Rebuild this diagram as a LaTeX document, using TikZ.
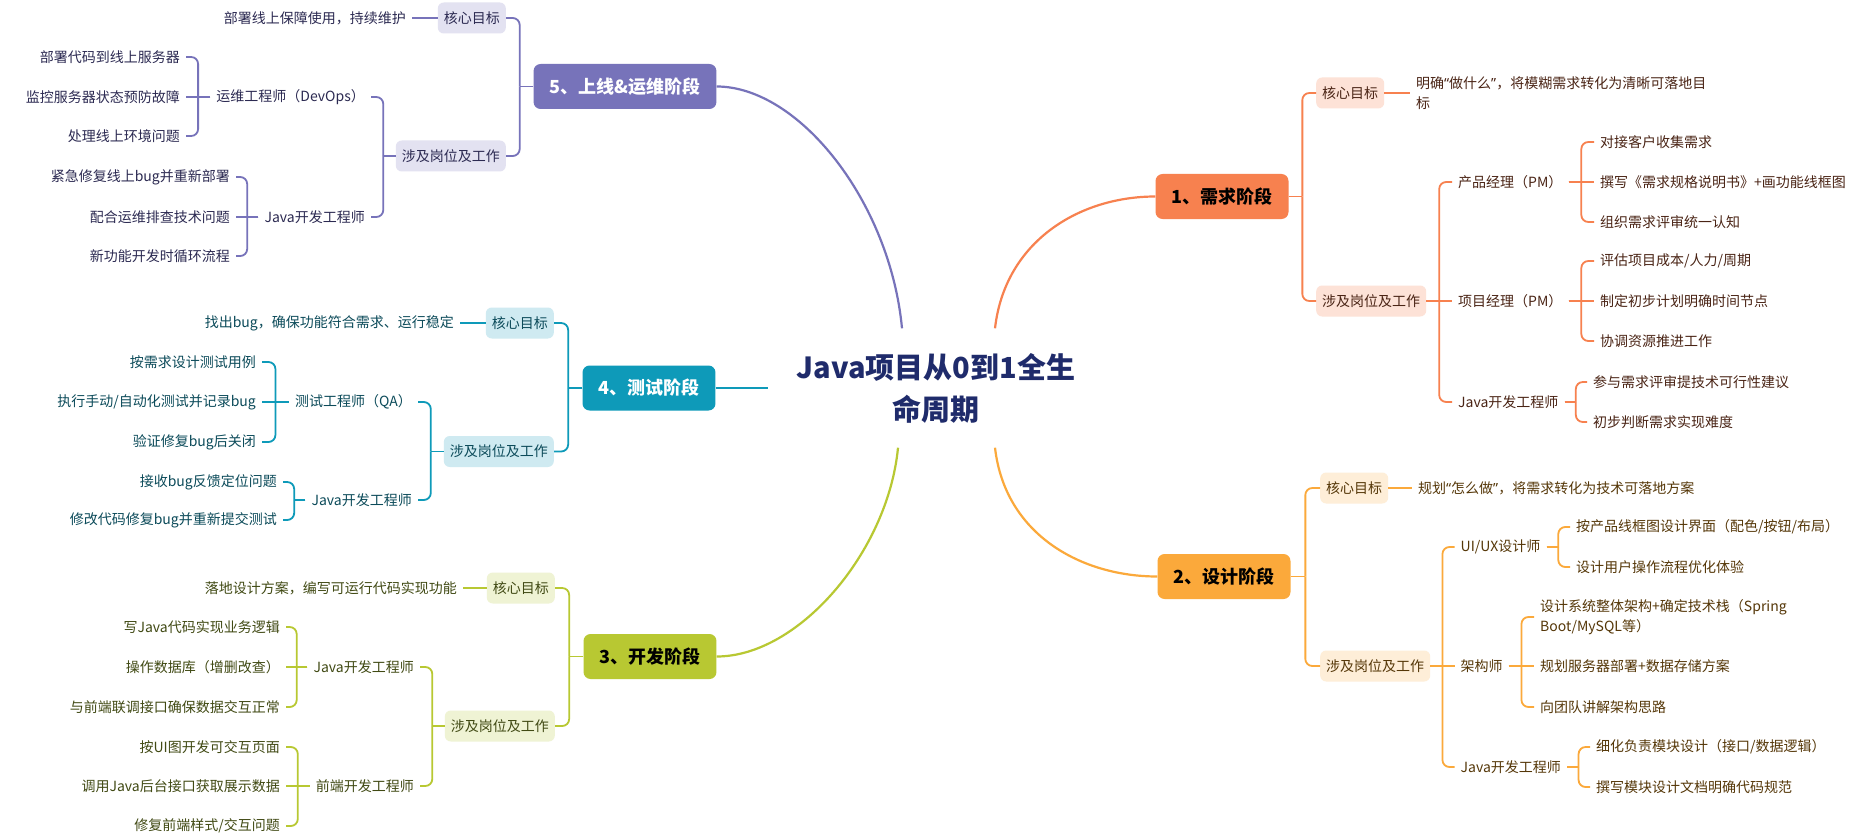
\documentclass[tikz,border=0pt]{standalone}
\usepackage{fontspec}
\setmainfont{Noto Sans CJK SC}
\newfontfamily\latq{Noto Sans}
\newcommand\qlft{{\latq “}}
\newcommand\qrgt{{\latq ”}}
\usetikzlibrary{calc}
\definecolor{ca}{HTML}{F7814F}\definecolor{cal}{HTML}{FDE2D7}\definecolor{cat}{HTML}{4A2415}
\definecolor{cb}{HTML}{FBA93B}\definecolor{cbl}{HTML}{FEEED8}\definecolor{cbt}{HTML}{553708}
\definecolor{cc}{HTML}{B8C832}\definecolor{ccl}{HTML}{EFF3D4}\definecolor{cct}{HTML}{414A14}
\definecolor{cd}{HTML}{0E9AB9}\definecolor{cdl}{HTML}{CFEAF1}\definecolor{cdt}{HTML}{0C4B5A}
\definecolor{ce}{HTML}{7773BA}\definecolor{cel}{HTML}{E3E2F1}\definecolor{cet}{HTML}{2C2A52}
\definecolor{navy}{HTML}{1F2B6B}
\newcommand\mmR[3]{\draw[#1] (#2.east) -- ($(#2.east)!0.5!(#2.east -| #3.west)$) coordinate (jn);
  \draw[#1,rounded corners=7pt] (jn) |- (#3.west);}
\newcommand\mmL[3]{\draw[#1] (#2.west) -- ($(#2.west)!0.5!(#2.west -| #3.east)$) coordinate (jn);
  \draw[#1,rounded corners=7pt] (jn) |- (#3.east);}
\newcommand\mmSR[3]{\draw[#1] (#2.east) -- (#3.west);}
\newcommand\mmSL[3]{\draw[#1] (#2.west) -- (#3.east);}
\tikzset{
  every node/.style={font=\fontsize{14}{20.5}\selectfont},
  mainbox/.style={rounded corners=7pt, minimum height=45pt, inner xsep=16pt, inner ysep=0pt,
    font=\fontsize{18}{20}\selectfont\bfseries},
  subbox/.style={rounded corners=6pt, minimum height=31pt, inner xsep=6pt, inner ysep=0pt},
  leaf/.style={inner xsep=6pt, inner ysep=1pt, align=left},
  box1/.style={mainbox, fill=ca, text=black}, sub1/.style={subbox, fill=cal, text=cat}, txt1/.style={leaf, text=cat},
  ln1/.style={draw=ca, line width=1.8pt}, crv1/.style={draw=ca, line width=2.2pt},
  box2/.style={mainbox, fill=cb, text=black}, sub2/.style={subbox, fill=cbl, text=cbt}, txt2/.style={leaf, text=cbt},
  ln2/.style={draw=cb, line width=1.8pt}, crv2/.style={draw=cb, line width=2.2pt},
  box3/.style={mainbox, fill=cc, text=black}, sub3/.style={subbox, fill=ccl, text=cct}, txt3/.style={leaf, text=cct},
  ln3/.style={draw=cc, line width=1.8pt}, crv3/.style={draw=cc, line width=2.2pt},
  box4/.style={mainbox, fill=cd, text=white}, sub4/.style={subbox, fill=cdl, text=cdt}, txt4/.style={leaf, text=cdt},
  ln4/.style={draw=cd, line width=1.8pt}, crv4/.style={draw=cd, line width=2.2pt},
  box5/.style={mainbox, fill=ce, text=white}, sub5/.style={subbox, fill=cel, text=cet}, txt5/.style={leaf, text=cet},
  ln5/.style={draw=ce, line width=1.8pt}, crv5/.style={draw=ce, line width=2.2pt},
}
\begin{document}
\begin{tikzpicture}[x=1pt,y=-1pt]
\fill[white] (0,0) rectangle (1862,837);
\useasboundingbox (0,0) rectangle (1862,837);

% title
\node[minimum width=336pt, minimum height=119pt, align=center, text=navy,
  font=\fontsize{29}{42}\selectfont\bfseries] (TT) at (936,388) {Java项目从0到1全生\\命周期};

% ---------- branch 1 ----------
\node[box1] (B1) at (1222,196.5) {1、需求阶段};
\node[sub1, anchor=west] (G1) at (1316,93) {核心目标};
\node[sub1, anchor=west] (W1) at (1316,301) {涉及岗位及工作};
\node[txt1, anchor=west] (T1) at (1410,93) {明确\qlft 做什么\qrgt ，将模糊需求转化为清晰可落地目\\标};
\node[txt1, anchor=west] (R11) at (1452,182) {产品经理（PM）};
\node[txt1, anchor=west] (R12) at (1452,301) {项目经理（PM）};
\node[txt1, anchor=west] (R13) at (1452,402) {Java开发工程师};
\node[txt1, anchor=west] (L111) at (1594,142) {对接客户收集需求};
\node[txt1, anchor=west] (L112) at (1594,182) {撰写《需求规格说明书》+画功能线框图};
\node[txt1, anchor=west] (L113) at (1594,222) {组织需求评审统一认知};
\node[txt1, anchor=west] (L121) at (1594,261) {评估项目成本/人力/周期};
\node[txt1, anchor=west] (L122) at (1594,301) {制定初步计划明确时间节点};
\node[txt1, anchor=west] (L123) at (1594,341) {协调资源推进工作};
\node[txt1, anchor=west] (L131) at (1587,382) {参与需求评审提技术可行性建议};
\node[txt1, anchor=west] (L132) at (1587,422) {初步判断需求实现难度};

\draw[crv1] ([xshift=59pt]TT.north) .. controls +(10,-87) and +(-76,0) .. (B1.west);
\mmR{ln1}{B1}{G1} \mmR{ln1}{B1}{W1}
\mmSR{ln1}{G1}{T1}
\mmR{ln1}{W1}{R11} \mmSR{ln1}{W1}{R12} \mmR{ln1}{W1}{R13}
\mmR{ln1}{R11}{L111} \mmSR{ln1}{R11}{L112} \mmR{ln1}{R11}{L113}
\mmR{ln1}{R12}{L121} \mmSR{ln1}{R12}{L122} \mmR{ln1}{R12}{L123}
\mmR{ln1}{R13}{L131} \mmR{ln1}{R13}{L132}

% ---------- branch 2 ----------
\node[box2] (B2) at (1224,576.5) {2、设计阶段};
\node[sub2, anchor=west] (G2) at (1320,488) {核心目标};
\node[sub2, anchor=west] (W2) at (1320,666) {涉及岗位及工作};
\node[txt2, anchor=west] (T2) at (1412,488) {规划\qlft 怎么做\qrgt ，将需求转化为技术可落地方案};
\node[txt2, anchor=west] (R21) at (1454.5,547) {UI/UX设计师};
\node[txt2, anchor=west] (R22) at (1454.5,666) {架构师};
\node[txt2, anchor=west] (R23) at (1454.5,767) {Java开发工程师};
\node[txt2, anchor=west] (L211) at (1570,527) {按产品线框图设计界面（配色/按钮/布局）};
\node[txt2, anchor=west] (L212) at (1570,567) {设计用户操作流程优化体验};
\node[txt2, anchor=west] (L221) at (1534,617) {设计系统整体架构+确定技术栈（Spring\\Boot/MySQL等）};
\node[txt2, anchor=west] (L222) at (1534,666) {规划服务器部署+数据存储方案};
\node[txt2, anchor=west] (L223) at (1534,707) {向团队讲解架构思路};
\node[txt2, anchor=west] (L231) at (1590,747) {细化负责模块设计（接口/数据逻辑）};
\node[txt2, anchor=west] (L232) at (1590,787) {撰写模块设计文档明确代码规范};

\draw[crv2] ([xshift=59pt]TT.south) .. controls +(10,87) and +(-76,0) .. (B2.west);
\mmR{ln2}{B2}{G2} \mmR{ln2}{B2}{W2}
\mmSR{ln2}{G2}{T2}
\mmR{ln2}{W2}{R21} \mmSR{ln2}{W2}{R22} \mmR{ln2}{W2}{R23}
\mmR{ln2}{R21}{L211} \mmR{ln2}{R21}{L212}
\mmR{ln2}{R22}{L221} \mmSR{ln2}{R22}{L222} \mmR{ln2}{R22}{L223}
\mmR{ln2}{R23}{L231} \mmR{ln2}{R23}{L232}

% ---------- branch 3 ----------
\node[box3] (B3) at (650,656.5) {3、开发阶段};
\node[sub3, anchor=east] (G3) at (555,588) {核心目标};
\node[sub3, anchor=east] (W3) at (555,726) {涉及岗位及工作};
\node[txt3, anchor=east] (T3) at (463,588) {落地设计方案，编写可运行代码实现功能};
\node[txt3, anchor=east] (R31) at (420,667) {Java开发工程师};
\node[txt3, anchor=east] (R32) at (420,786) {前端开发工程师};
\node[txt3, anchor=east] (L311) at (286,627) {写Java代码实现业务逻辑};
\node[txt3, anchor=east] (L312) at (286,667) {操作数据库（增删改查）};
\node[txt3, anchor=east] (L313) at (286,707) {与前端联调接口确保数据交互正常};
\node[txt3, anchor=east] (L321) at (286,747) {按UI图开发可交互页面};
\node[txt3, anchor=east] (L322) at (286,786) {调用Java后台接口获取展示数据};
\node[txt3, anchor=east] (L323) at (286,826) {修复前端样式/交互问题};

\draw[crv3] (B3.east) .. controls +(82,0) and +(-10,104) .. ([xshift=-38pt]TT.south);
\mmL{ln3}{B3}{G3} \mmL{ln3}{B3}{W3}
\mmSL{ln3}{G3}{T3}
\mmL{ln3}{W3}{R31} \mmL{ln3}{W3}{R32}
\mmL{ln3}{R31}{L311} \mmSL{ln3}{R31}{L312} \mmL{ln3}{R31}{L313}
\mmL{ln3}{R32}{L321} \mmSL{ln3}{R32}{L322} \mmL{ln3}{R32}{L323}

% ---------- branch 4 ----------
\node[box4] (B4) at (649,388) {4、测试阶段};
\node[sub4, anchor=east] (G4) at (554,323) {核心目标};
\node[sub4, anchor=east] (W4) at (554,451.5) {涉及岗位及工作};
\node[txt4, anchor=east] (T4) at (460,323) {找出bug，确保功能符合需求、运行稳定};
\node[txt4, anchor=east] (R41) at (418,402) {测试工程师（QA）};
\node[txt4, anchor=east] (R42) at (418,500) {Java开发工程师};
\node[txt4, anchor=east] (L411) at (262,362) {按需求设计测试用例};
\node[txt4, anchor=east] (L412) at (262,402) {执行手动/自动化测试并记录bug};
\node[txt4, anchor=east] (L413) at (262,442) {验证修复bug后关闭};
\node[txt4, anchor=east] (L421) at (283,482) {接收bug反馈定位问题};
\node[txt4, anchor=east] (L422) at (283,520) {修改代码修复bug并重新提交测试};

\draw[crv4] (B4.east) -- (TT.west);
\mmL{ln4}{B4}{G4} \mmL{ln4}{B4}{W4}
\mmSL{ln4}{G4}{T4}
\mmL{ln4}{W4}{R41} \mmL{ln4}{W4}{R42}
\mmL{ln4}{R41}{L411} \mmSL{ln4}{R41}{L412} \mmL{ln4}{R41}{L413}
\mmL{ln4}{R42}{L421} \mmL{ln4}{R42}{L422}

% ---------- branch 5 ----------
\node[box5] (B5) at (625,86.5) {5、上线\&运维阶段};
\node[sub5, anchor=east] (G5) at (506,18) {核心目标};
\node[sub5, anchor=east] (W5) at (506,156) {涉及岗位及工作};
\node[txt5, anchor=east] (T5) at (412,18) {部署线上保障使用，持续维护};
\node[txt5, anchor=east] (R51) at (371,97) {运维工程师（DevOps）};
\node[txt5, anchor=east] (R52) at (371,217) {Java开发工程师};
\node[txt5, anchor=east] (L511) at (186,57) {部署代码到线上服务器};
\node[txt5, anchor=east] (L512) at (186,97) {监控服务器状态预防故障};
\node[txt5, anchor=east] (L513) at (186,136) {处理线上环境问题};
\node[txt5, anchor=east] (L521) at (236,177) {紧急修复线上bug并重新部署};
\node[txt5, anchor=east] (L522) at (236,217) {配合运维排查技术问题};
\node[txt5, anchor=east] (L523) at (236,256) {新功能开发时循环流程};

\draw[crv5] (B5.east) .. controls +(82,0) and +(-12,-127) .. ([xshift=-34pt]TT.north);
\mmL{ln5}{B5}{G5} \mmL{ln5}{B5}{W5}
\mmSL{ln5}{G5}{T5}
\mmL{ln5}{W5}{R51} \mmL{ln5}{W5}{R52}
\mmL{ln5}{R51}{L511} \mmSL{ln5}{R51}{L512} \mmL{ln5}{R51}{L513}
\mmL{ln5}{R52}{L521} \mmSL{ln5}{R52}{L522} \mmL{ln5}{R52}{L523}
\end{tikzpicture}
\end{document}
